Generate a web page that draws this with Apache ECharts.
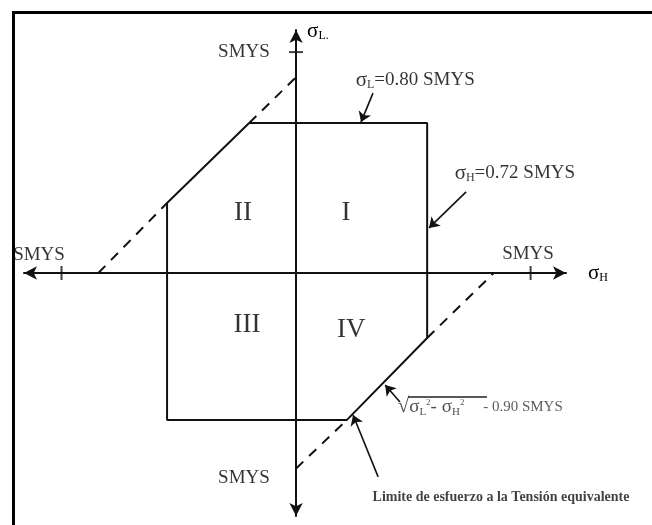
<!DOCTYPE html>
<html>
<head>
<meta charset="utf-8">
<script src="https://cdn.jsdelivr.net/npm/echarts@6/dist/echarts.min.js"></script>
<style>
  html, body { margin: 0; padding: 0; background: #fff; }
  #main { width: 652px; height: 525px; }
</style>
</head>
<body>
<div id="main"></div>
<script>
// all values in SMYS units (sigma_H horizontal, sigma_L vertical)
var envelope = [[-0.200, 0.679], [0.559, 0.679], [0.559, -0.294], [0.217, -0.665],
	[-0.550, -0.665], [-0.550, 0.317], [-0.200, 0.679]];
// dashed continuation of the equivalent stress limit, outside the envelope
var limitDashed = [
	[[-0.843, 0], [-0.550, 0.317]],
	[[-0.200, 0.679], [0, 0.886]],
	[[0, -0.885], [0.217, -0.665]],
	[[0.559, -0.294], [0.843, 0]]
];
var ticksH = [-1, 1];
var ticksL = [1];
var smysLabels = [[-1.096, 0.081], [0.989, 0.086], [-0.222, 1.0], [-0.222, -0.928]];
var quadNames = ['II', 'I', 'III', 'IV'];
var quadPos = [[-0.226, 0.271], [0.213, 0.271], [-0.209, -0.235], [0.235, -0.258]];
// arrows: [tail, head]
var arrows = [
	[[0.328, 0.814], [0.277, 0.683]],
	[[0.725, 0.367], [0.567, 0.204]],
	[[0.443, -0.584], [0.380, -0.507]],
	[[0.350, -0.923], [0.243, -0.643]]
];
var noteText = [
	'{g|σ}{sub|L}=0.80 SMYS',
	'{g|σ}{sub|H}=0.72 SMYS',
	'{rad|√}{f|σ}{sub2|L}{sup|2}{f|- σ}{sub2|H}{sup|2}{t|     - 0.90 SMYS}',
	'{lim|Limite de esfuerzo a la Tensión equivalente}'
];
var notePos = [[0.252, 0.873], [0.674, 0.452], [0.431, -0.606], [0.324, -1.014]];
var overline = [[0.478, -0.561], [0.814, -0.561]];

var ink = '#000';
var serif = 'Liberation Serif';
var rich = {
	g: { fontSize: 21, fontFamily: serif, color: ink },
	sub: { fontSize: 12, fontFamily: serif, color: ink, verticalAlign: 'bottom' },
	f: { fontSize: 19, fontFamily: serif, color: '#222' },
	sub2: { fontSize: 11, fontFamily: serif, color: '#222', verticalAlign: 'bottom' },
	sup: { fontSize: 9, fontFamily: serif, color: '#333', verticalAlign: 'middle', padding: [0, 0, 9, 0] },
	rad: { fontSize: 21, fontFamily: serif, color: '#222' },
	t: { fontSize: 15, fontFamily: serif, color: '#333' },
	lim: { fontSize: 14, fontFamily: serif, color: '#111', fontWeight: 'bold' }
};

var chart = echarts.init(document.getElementById('main'));

var noteData = [];
for (var i = 0; i < notePos.length; i++) {
	noteData.push({ value: notePos[i], label: { formatter: noteText[i] } });
}
var quadData = [];
for (var i = 0; i < quadPos.length; i++) {
	quadData.push({ value: quadPos[i], name: quadNames[i] });
}
// invisible anchor points that only carry a label
var hidden = { color: 'rgba(0,0,0,0)' };

var option = {
	animation: false,
	backgroundColor: '#fff',
	textStyle: { fontFamily: serif, color: ink },
	graphic: [{
		type: 'rect',
		left: 11, top: 10,
		shape: { width: 700, height: 600 },
		style: { fill: 'none', stroke: '#000', lineWidth: 3 }
	}],
	grid: { left: 24, right: 86, top: 30, bottom: 9 },
	xAxis: {
		type: 'value', min: -1.160, max: 1.151,
		name: '{g|σ}{sub|H}',
		nameLocation: 'end', nameGap: 22,
		nameTextStyle: { rich: rich, align: 'left', verticalAlign: 'middle' },
		axisLine: { onZero: true, symbol: ['arrow', 'arrow'], symbolSize: [10, 13],
			lineStyle: { color: '#111', width: 2 } },
		axisTick: { show: false }, axisLabel: { show: false }, splitLine: { show: false }
	},
	yAxis: {
		type: 'value', min: -1.1, max: 1.1,
		name: '{g|σ}{sub|L.}',
		nameLocation: 'end', nameGap: -1,
		nameTextStyle: { rich: rich, align: 'left', verticalAlign: 'middle', padding: [0, 0, 0, 11] },
		axisLine: { onZero: true, symbol: ['arrow', 'arrow'], symbolSize: [10, 13],
			lineStyle: { color: '#111', width: 2 } },
		axisTick: { show: false }, axisLabel: { show: false }, splitLine: { show: false }
	},
	series: [
		{
			type: 'lines', coordinateSystem: 'cartesian2d', z: 2,
			lineStyle: { color: '#111', width: 2, type: [10, 8], opacity: 1 },
			data: limitDashed.map(function(s) { return { coords: s }; })
		},
		{
			type: 'line', data: envelope, symbol: 'none', z: 3,
			lineStyle: { color: '#111', width: 2 }
		},
		{
			type: 'scatter', symbol: 'rect', symbolSize: [2, 14], z: 4,
			itemStyle: { color: '#111' },
			data: ticksH.map(function(v) { return [v, 0]; })
		},
		{
			type: 'scatter', symbol: 'rect', symbolSize: [14, 2], z: 4,
			itemStyle: { color: '#111' },
			data: ticksL.map(function(v) { return [0, v]; })
		},
		{
			type: 'scatter', symbolSize: 1, itemStyle: hidden, data: smysLabels,
			label: { show: true, position: 'inside', formatter: 'SMYS',
				fontFamily: serif, fontSize: 19, color: ink }
		},
		{
			type: 'scatter', symbolSize: 1, itemStyle: hidden, data: quadData,
			label: { show: true, position: 'inside', formatter: '{b}',
				fontFamily: serif, fontSize: 27, color: ink }
		},
		{
			type: 'scatter', symbolSize: 1, itemStyle: hidden, data: noteData,
			label: { show: true, position: 'right', distance: 0, rich: rich,
				fontFamily: serif, fontSize: 19, color: ink }
		},
		{
			type: 'lines', coordinateSystem: 'cartesian2d', z: 5,
			symbol: ['none', 'arrow'], symbolSize: 10,
			lineStyle: { color: '#111', width: 1.6, opacity: 1 },
			data: arrows.map(function(a) { return { coords: a }; })
		},
		{
			type: 'lines', coordinateSystem: 'cartesian2d', z: 5,
			lineStyle: { color: '#222', width: 1.5, opacity: 1 },
			data: [{ coords: overline }]
		}
	]
};
chart.setOption(option);
</script>
</body>
</html>
